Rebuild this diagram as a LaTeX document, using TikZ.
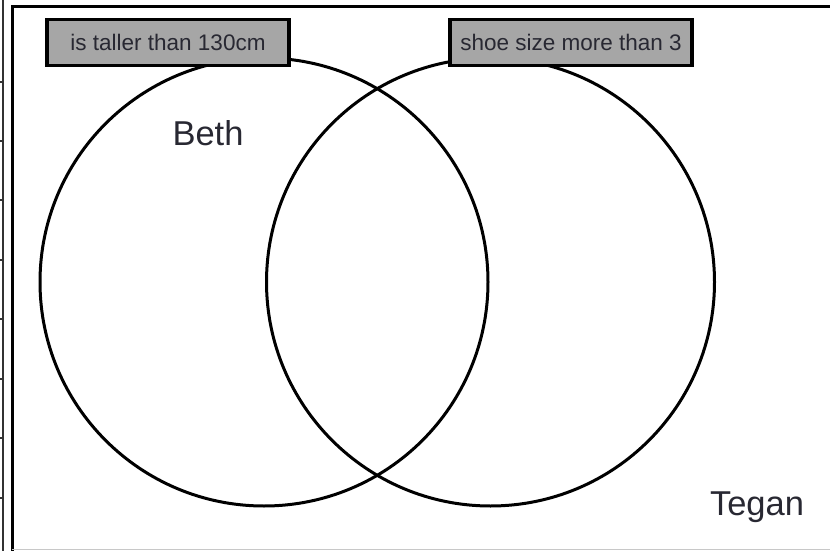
\documentclass[tikz,border=0pt]{standalone}
\usepackage{fontspec}
\setmainfont{Liberation Sans}
\definecolor{boxgray}{RGB}{166,166,166}
\definecolor{faint}{RGB}{200,200,200}
\definecolor{inktext}{RGB}{40,40,50}
\begin{document}
\begin{tikzpicture}[x=1pt,y=-1pt,
  setcircle/.style={circle,draw=black,line width=3pt,minimum size=448pt,inner sep=0pt},
  setlabel/.style={draw=black,line width=3.5pt,fill=boxgray,minimum width=242pt,minimum height=46pt,inner sep=0pt,text=inktext,font=\fontsize{22.5}{26}\selectfont},
  personname/.style={font=\fontsize{34.5}{40}\selectfont,inner sep=0pt,text=inktext},
  frameline/.style={line width=3pt,black}]
\useasboundingbox (0,0) rectangle (830,551);
% left strip with ticks
\coordinate (s1) at (2.5,0);
\coordinate (s2) at (2.5,551);
\draw[line width=2pt,black!80] (s1) -- (s2);
\foreach \y in {82,141,200,260,319,379,438,498}{
  \draw[line width=2pt,black!80] (0,\y) -- (2.5,\y);
}
% frame
\coordinate (f1) at (12,551);
\coordinate (f2) at (12,7);
\coordinate (f3) at (830,7);
\draw[frameline] (f1) -- (f2) -- (f3);
\coordinate (b1) at (12,549.5);
\coordinate (b2) at (830,549.5);
\draw[faint,line width=1pt] (b1) -- (b2);
% circles
\node[setcircle] (A) at (264,282) {};
\node[setcircle] (B) at (490.5,282) {};
% labels
\node[setlabel] (LA) at (168,42.5) {is taller than 130cm};
\node[setlabel] (LB) at (571,42.5) {shoe size more than 3};
\node[personname] (beth) at (208,133) {Beth};
\node[personname] (tegan) at (757,507) {Tegan};
\end{tikzpicture}
\end{document}
